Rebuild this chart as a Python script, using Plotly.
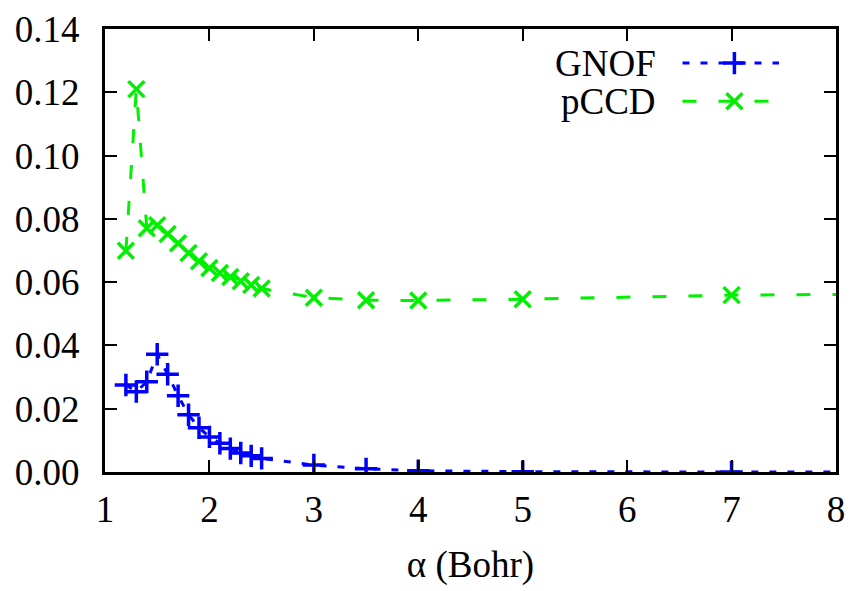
import plotly.graph_objects as go

# Bond length alpha (Bohr) and the two curves
alpha = [1.2, 1.3, 1.4, 1.5, 1.6, 1.7, 1.8, 1.9, 2.0, 2.1, 2.2, 2.3, 2.4, 2.5,
         3.0, 3.5, 4.0, 5.0, 7.0, 10.0]
gnof = [0.0275, 0.0254, 0.0285, 0.0372, 0.0309, 0.0241, 0.0181, 0.0140, 0.0111,
        0.0091, 0.0074, 0.0060, 0.0051, 0.0043,
        0.0022, 0.0010, 0.0004, 0.0001, 0.0000, 0.0000]
pccd = [0.0699, 0.1210, 0.0770, 0.0780, 0.0752, 0.0723, 0.0692, 0.0666, 0.0645,
        0.0629, 0.0616, 0.0603, 0.0591, 0.0580,
        0.0551, 0.0543, 0.0542, 0.0546, 0.0559, 0.0566]

series_names = ["GNOF", "pCCD"]
x_ticks = [1, 2, 3, 4, 5, 6, 7, 8]
y_ticks = [0.00, 0.02, 0.04, 0.06, 0.08, 0.10, 0.12, 0.14]

FONT = "Liberation Serif"
FS = 37

styles = {
    "GNOF": dict(color="#0000ff", dash="7px,11px", symbol="cross-thin"),
    "pCCD": dict(color="#00f000", dash="14px,22px", symbol="x-thin"),
}

fig = go.Figure()

for name, ys in zip(series_names, [gnof, pccd]):
    st = styles[name]
    fig.add_trace(go.Scatter(
        x=alpha, y=ys, mode="lines+markers", name=name, showlegend=False,
        line=dict(color=st["color"], width=3, dash=st["dash"]),
        marker=dict(symbol=st["symbol"], size=16,
                    line=dict(color=st["color"], width=3.5)),
    ))

# Key: label on the left, dashed sample with its point on the right
key_rows = [0.923, 0.837]
key_text_x = 0.756
key_line = [0.790, 0.922]
key_point = 0.861
for name, ky in zip(series_names, key_rows):
    st = styles[name]
    fig.add_trace(go.Scatter(
        x=key_line, y=[ky, ky], mode="lines", xaxis="x2", yaxis="y2",
        showlegend=False, hoverinfo="skip",
        line=dict(color=st["color"], width=3, dash=st["dash"]),
    ))
    fig.add_trace(go.Scatter(
        x=[key_point], y=[ky], mode="markers", xaxis="x2", yaxis="y2",
        showlegend=False, hoverinfo="skip",
        marker=dict(symbol=st["symbol"], size=16,
                    line=dict(color=st["color"], width=3.5)),
    ))
    fig.add_annotation(
        x=key_text_x, y=ky, xref="paper", yref="paper", text=name,
        showarrow=False, xanchor="right", yanchor="middle",
        font=dict(family=FONT, size=FS, color="black"),
    )

axis_common = dict(
    showline=True, linecolor="black", linewidth=3, mirror="allticks",
    ticks="inside", ticklen=12, tickwidth=1.5, tickcolor="black",
    showgrid=False, zeroline=False,
    tickfont=dict(family=FONT, size=FS, color="black"),
)

fig.update_layout(
    template="none",
    width=853, height=591,
    margin=dict(l=105, r=17, t=29, b=119),
    paper_bgcolor="white", plot_bgcolor="white",
    font=dict(family=FONT, size=FS, color="black"),
    xaxis=dict(range=[1, 8], tickvals=x_ticks, ticklabelstandoff=3,
               title=dict(text="α (Bohr)", standoff=22,
                          font=dict(family=FONT, size=FS, color="black")),
               **axis_common),
    yaxis=dict(range=[0, 0.14], tickvals=y_ticks, tickformat=".2f",
               ticklabelstandoff=15, **axis_common),
    xaxis2=dict(range=[0, 1], overlaying="x", visible=False, fixedrange=True),
    yaxis2=dict(range=[0, 1], overlaying="y", visible=False, fixedrange=True),
)

fig.write_html("out.html")
